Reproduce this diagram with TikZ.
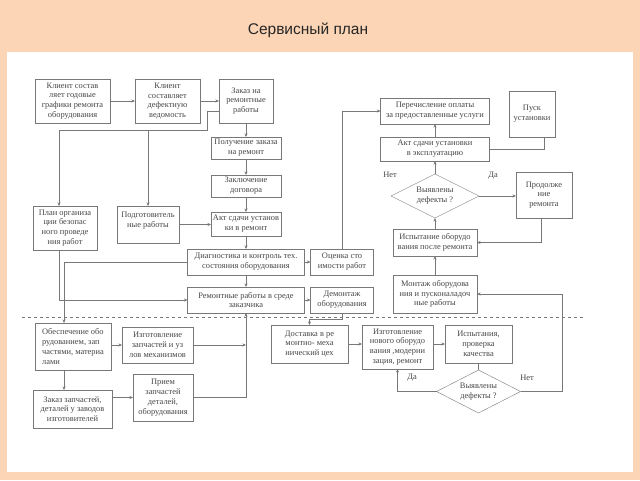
\documentclass[tikz,border=0pt]{standalone}
\usepackage{fontspec}
\setmainfont{Liberation Serif}
\newfontfamily\titlefont{Liberation Sans}
\usetikzlibrary{positioning,shapes.geometric,arrows.meta}
\definecolor{slidebg}{RGB}{251,213,181}
\definecolor{boxline}{RGB}{120,120,120}
\definecolor{boxtext}{RGB}{70,70,70}

\begin{document}
\begin{tikzpicture}[x=1pt, y=-1pt, every node/.style={font=\fontsize{8.4}{9.8}\selectfont, text=boxtext},
    >={Stealth[length=3.5pt,width=3pt]}, wh/.style 2 args={minimum width=#1pt, minimum height=#2pt}]
  \tikzstyle{blk}=[draw=boxline, fill=white, align=center, inner sep=1pt, outer sep=0pt]
  \tikzstyle{ask}=[blk, diamond, aspect=2, inner sep=0pt]
  \tikzstyle{link}=[draw=boxline, line width=0.6pt]
  \fill[slidebg] (0,0) rectangle (640,480);
  \fill[white] (7,52) rectangle (633,472);
  \useasboundingbox (0,0) rectangle (640,480);
  \node[font=\titlefont\fontsize{15.5}{18}\selectfont, text=black!85] (title) at (308,30) {Сервисный план};
  % upper part
  \node[blk, wh={75}{44}] (sched) at (72.5,101) {Клиент состав\\ляет годовые\\графики ремонта\\оборудования};
  \node[blk, wh={65}{44}] (defect) at (167.5,101) {Клиент\\составляет\\дефектную\\ведомость};
  \node[blk, wh={54}{44}] (order) at (246,101) {Заказ на\\ремонтные\\работы};
  \node[blk, wh={70}{22}, below=14pt of order] (getord) {Получение заказа\\на ремонт};
  \node[blk, wh={70}{22}, below=16pt of getord] (contract) {Заключение\\договора};
  \node[blk, wh={70}{24}, below=15pt of contract] (actin) {Акт сдачи установ\\ки в ремонт};
  \node[blk, wh={117}{26}, below=13pt of actin] (diag) {Диагностика и контроль тех.\\состояния оборудования};
  \node[blk, wh={117}{26}, below=12pt of diag] (rep) {Ремонтные работы в среде\\заказчика};
  \node[blk, wh={63}{26}, right=6pt of diag] (estim) {Оценка сто\\имости работ};
  \node[blk, wh={63}{26}, right=6pt of rep] (dism) {Демонтаж\\оборудования};
  \node[blk, wh={64}{44}] (plan) at (65,228) {План организа\\ции безопас\\ного проведе\\ния работ};
  \node[blk, wh={62}{37}] (prep) at (148,224.5) {Подготовитель\\ные работы\\~};
  \node[blk, wh={109}{26}] (pay) at (435,111) {Перечисление оплаты\\за предоставленные услуги};
  \node[blk, wh={46}{46}] (start) at (532,114) {Пуск\\установки};
  \node[blk, wh={109}{24}, below=13pt of pay] (actout) {Акт сдачи установки\\в эксплуатацию};
  \node[ask, wh={88}{44}, below=13pt of actout] (dfct) {Выявлены\\дефекты ?};
  \node[blk, wh={56}{46}] (cont) at (544,195) {Продолже\\ние\\ремонта};
  \node[blk, wh={84}{27}, below=11pt of dfct] (test) {Испытание оборудо\\вания после ремонта};
  \node[blk, wh={84}{38}, below=19pt of test] (mount) {Монтаж оборудова\\ния и пусконаладоч\\ные работы};
  \node (no1) at (390,175) {Нет};
  \node (yes1) at (493,176) {Да};
  % lower part
  \node[blk, wh={76}{47}, align=left] (supply) at (73,346.5) {Обеспечение обо\\рудованием, зап\\частями, материа\\лами};
  \node[blk, wh={71}{36}] (mkparts) at (157.5,345) {Изготовление\\запчастей и уз\\лов механизмов};
  \node[blk, wh={79}{38}] (ordparts) at (72.5,409) {Заказ запчастей,\\деталей у заводов\\изготовителей};
  \node[blk, wh={60}{47}] (recv) at (163,397.5) {Прием\\запчастей\\деталей,\\оборудования};
  \node[blk, wh={77}{38}] (deliv) at (309.5,344) {Доставка в ре\\монтно- меха\\нический цех};
  \node[blk, wh={71}{44}] (mknew) at (397.5,347) {Изготовление\\нового оборудо\\вания ,модерни\\зация, ремонт};
  \node[blk, wh={67}{38}] (qual) at (478.5,344) {Испытания,\\проверка\\качества};
  \node[ask, wh={84}{43}, below=7pt of qual] (dfct2) {Выявлены\\дефекты ?};
  \node (yes2) at (412,378) {Да};
  \node (no2) at (527,378) {Нет};
  \coordinate (split) at (207,130);
  \coordinate (joinR) at (562,294);
  \draw[boxline, dashed, line width=0.6pt] (22,317) -- (585,317);
  % connectors
  \draw[link,->] (sched) -- (defect);
  \draw[link,->] (defect) -- (order);
  \draw[link,->] ([yshift=-10pt]order.west) -| (split) -| ([xshift=-6pt]plan.north);
  \draw[link,->] (prep.north |- split) -- (prep.north);
  \draw[link,->] (prep.east) -- (prep.east -| actin.west);
  \draw[link,->] (order) -- (getord);
  \draw[link,->] (getord) -- (contract);
  \draw[link,->] (contract) -- (actin);
  \draw[link,->] (actin) -- (diag);
  \draw[link,->] (diag) -- (rep);
  \draw[link,->] (diag) -- (estim);
  \draw[link,->] (rep) -- (dism);
  \draw[link,->] (estim.north) |- (pay.west);
  \draw[link,->] (diag.west) -| ([xshift=-9pt]supply.north);
  \draw[link,->] ([xshift=-6pt]plan.south) |- (rep.west);
  \draw[link,->] (actout) -- (pay);
  \draw[link] ([xshift=12pt]start.south) |- (actout.east);
  \draw[link,->] (dfct) -- (actout);
  \draw[link,->] (dfct.east) -- (dfct.east -| cont.west);
  \draw[link,->] ([xshift=-3pt]cont.south) |- (test.east);
  \draw[link,->] (test) -- (dfct);
  \draw[link,->] (mount) -- (test);
  \draw[link,->] (dfct2.east) -| (joinR) -- (mount.east);
  \draw[link,->] (dfct2.west) -| (mknew.south);
  \draw[link] (qual) -- (dfct2);
  \draw[link,->] (deliv.east) -- (deliv.east -| mknew.west);
  \draw[link,->] (mknew.east |- qual.west) -- (qual.west);
  \draw[link,->] (dism.south) -- ++(0,6) -| (deliv.north);
  \draw[link,->] (supply.east |- mkparts.west) -- (mkparts.west);
  \draw[link,->] ([xshift=-9pt]supply.south) -- ([xshift=-9pt]supply.south |- ordparts.north);
  \draw[link,->] (ordparts.east |- recv.west) -- (recv.west);
  \draw[link,->] (mkparts.east) -- (mkparts.east -| rep.south);
  \draw[link,->] (recv.east) -| (rep.south);
\end{tikzpicture}
\end{document}
